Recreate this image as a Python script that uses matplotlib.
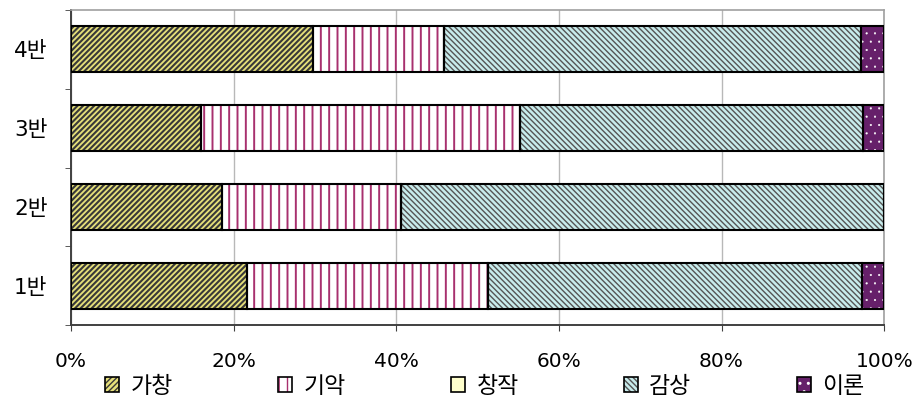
import numpy as np
import matplotlib.pyplot as plt
from matplotlib.patches import Patch

plt.rcParams['font.family'] = ['DejaVu Sans', 'Noto Sans CJK KR']

classes = ['1반', '2반', '3반', '4반']
series = ['가창', '기악', '창작', '감상', '이론']
# percent share of each activity per class
gachang = [21.6, 18.6, 16.0, 29.8]
giak = [29.7, 22.0, 39.2, 16.1]
changjak = [0.0, 0.0, 0.0, 0.0]
gamsang = [46.0, 59.4, 42.2, 51.3]
iron = [2.7, 0.0, 2.6, 2.8]
values = [gachang, giak, changjak, gamsang, iron]

faces = ['#e6e07a', 'white', '#ffffcc', '#c8ecec', '#66206a']
hatch_cols = ['#383838', '#a8306e', '#ffffcc', '#555555', 'white']
hatches = ['//////', '||', '', '\\' * 6, '..']
hatch_lw = [1.5, 1.4, 1.0, 1.0, 0.3]

fig = plt.figure(figsize=(9.22, 3.96), dpi=100)
ax = fig.add_axes([0.077, 0.179, 0.882, 0.796])

y = np.arange(len(classes))
left = np.zeros(len(classes))
handles = []
for vals, fc, hc, h, lw in zip(values, faces, hatch_cols, hatches, hatch_lw):
    vals = np.array(vals)
    with plt.rc_context({'hatch.linewidth': lw}):
        ax.barh(y, vals, left=left, height=0.58, color=fc, edgecolor=hc,
                hatch=h, linewidth=0, zorder=2)
        fill = Patch(facecolor=fc, edgecolor=hc, hatch=h, linewidth=0)
    ax.barh(y, vals, left=left, height=0.58, fill=False,
            edgecolor='black', linewidth=1.5, zorder=3)
    handles.append((fill, Patch(fill=False, edgecolor='black', linewidth=1.2)))
    left += vals

ax.set_xlim(0, 100)
ax.set_ylim(-0.5, 3.5)
ax.set_xticks(np.arange(0, 101, 20))
ax.set_xticklabels([f'{v}%' for v in range(0, 101, 20)], fontsize=14.5)
ax.set_yticks(y)
ax.set_yticklabels(classes, fontsize=15.5)
ax.set_yticks(np.arange(-0.5, 3.6, 1), minor=True)
ax.tick_params(axis='y', which='major', length=0, pad=17)
ax.tick_params(axis='y', which='minor', length=4, color='#404040')
ax.tick_params(axis='x', length=4, color='#404040', pad=15)
ax.xaxis.grid(True, color='#b8b8b8', linewidth=1, zorder=0)
ax.set_axisbelow(True)

for side in ['top', 'right']:
    ax.spines[side].set_color('#a0a0a0')
    ax.spines[side].set_linewidth(1.2)
for side in ['left', 'bottom']:
    ax.spines[side].set_color('#404040')
    ax.spines[side].set_linewidth(1.4)

fig.legend(handles, series, loc='center', bbox_to_anchor=(0.526, 0.025),
           ncol=5, frameon=False, fontsize=16.5, handlelength=0.6,
           handleheight=0.6, handletextpad=0.5, columnspacing=4.6)

fig.savefig('out.png', dpi=100)
